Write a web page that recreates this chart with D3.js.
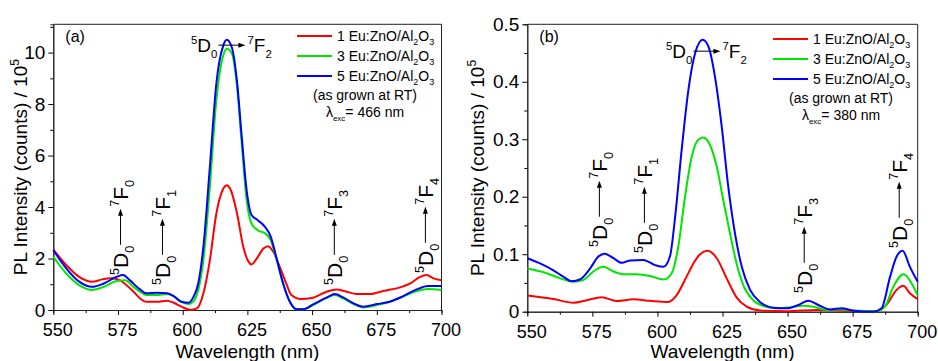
<!DOCTYPE html>
<html>
<head>
<meta charset="utf-8">
<script src="https://cdn.jsdelivr.net/npm/d3@7"></script>
<style>
  body { margin: 0; background: #fff; }
  svg { font-family: "Liberation Sans", Arial, sans-serif; }
</style>
</head>
<body>
<script>
// ---- data: [wavelength nm, PL intensity / 1e5] ----
const seriesNames = ["1 Eu:ZnO/Al", "3 Eu:ZnO/Al", "5 Eu:ZnO/Al"]
const seriesColors = ["#ff0000", "#00e600", "#0000ff"]

const a1 = [[550,2.35],[555,1.75],[560,1.29],[565,1.1],[569,1.19],[572,1.23],[575,1.19],[577.5,1.03],[581,0.71],[583.5,0.45],[586,0.32],[590,0.32],[594,0.36],[596.5,0.28],[599.5,0.13],[603,0.0],[605.5,0.06],[608,0.65],[610.5,1.94],[613,3.75],[615.7,4.72],[617,4.85],[618.3,4.72],[621,3.75],[623.4,2.46],[625.4,1.88],[626.6,1.77],[628.6,2.0],[631.2,2.39],[633,2.48],[635,2.26],[637.5,1.68],[640,1.03],[642,0.58],[645.3,0.43],[650.4,0.48],[655.6,0.71],[659.4,0.8],[663.3,0.71],[667.2,0.62],[672.3,0.62],[677.5,0.74],[684,0.88],[688,1.03],[691.7,1.29],[694.2,1.36],[697,1.23],[700,1.16]]
const a3 = [[550,2.07],[555,1.42],[560,0.97],[565,0.78],[569.5,0.9],[574.5,1.13],[577.7,1.16],[581,0.9],[583.5,0.71],[586,0.58],[590,0.58],[594,0.62],[596.5,0.54],[599.5,0.32],[602.3,0.23],[604,0.32],[606,0.78],[608,1.94],[610.5,4.79],[613,8.15],[615.7,9.9],[617,10.15],[619,9.96],[621,8.67],[622.7,6.6],[624.7,4.27],[626.6,3.36],[629,3.1],[631.8,2.98],[634,2.72],[636.3,1.94],[638.8,1.03],[641.4,0.32],[644,0.03],[646.6,0.03],[650.4,0.19],[655.6,0.48],[658.8,0.58],[662,0.45],[666,0.23],[669.8,0.1],[675,0.19],[680,0.32],[685.2,0.52],[690.4,0.74],[694.8,0.82],[700,0.78]]
const a5 = [[550,2.33],[555,1.62],[560,1.1],[565,0.9],[569.5,1.03],[574.5,1.29],[577,1.36],[579.5,1.16],[583.5,0.8],[586,0.65],[590,0.67],[594,0.65],[596.5,0.54],[599.5,0.32],[602.3,0.28],[604,0.48],[606,1.03],[608,2.46],[610.5,5.56],[613,8.8],[615.7,10.28],[617,10.5],[619,10.2],[621,8.86],[622.7,6.86],[624.7,4.66],[626.6,3.69],[629,3.49],[631.8,3.23],[634,2.85],[636.3,2.0],[638.8,1.03],[641.4,0.32],[644,0.03],[646.6,0.03],[650.4,0.22],[655.6,0.48],[658.8,0.62],[662,0.49],[666,0.26],[669.8,0.13],[675,0.23],[680,0.32],[685.2,0.54],[690.4,0.8],[694.8,0.93],[700,0.93]]

const b1 = [[550,0.028],[560,0.022],[567.7,0.0157],[572.8,0.02],[578.6,0.025],[584.3,0.0186],[590.7,0.0215],[597.1,0.019],[604.2,0.017],[607.4,0.029],[611.2,0.061],[613.8,0.084],[616.4,0.1],[619.2,0.106],[622.8,0.093],[626.6,0.058],[630.4,0.025],[634.3,0.0087],[639.4,0.002],[650,0.001],[661.2,0.003],[670,0.002],[684.2,0.001],[688,0.012],[691.9,0.038],[694.5,0.045],[697,0.032],[700,0.022]]
const b3 = [[550,0.075],[557.4,0.067],[562.6,0.058],[567.7,0.052],[571.5,0.055],[575.4,0.07],[579.2,0.078],[583.1,0.07],[586.9,0.065],[592,0.065],[597.1,0.062],[602.3,0.056],[605.5,0.067],[608,0.113],[610.6,0.2],[613.2,0.27],[615.7,0.299],[617.6,0.303],[620.2,0.29],[622.8,0.252],[625.3,0.194],[627.9,0.136],[630.4,0.084],[633,0.046],[636.8,0.02],[640.7,0.01],[645.8,0.006],[650.9,0.0075],[656.1,0.0104],[659.9,0.0087],[665,0.003],[670.1,0.004],[675.3,0.002],[684,0.0006],[687.4,0.009],[690.6,0.043],[694.5,0.065],[697.7,0.049],[700,0.028]]
const b5 = [[550,0.093],[554.9,0.084],[560,0.072],[563.8,0.061],[567,0.053],[570.2,0.056],[574.1,0.075],[577.3,0.096],[579.8,0.101],[583.1,0.093],[586.3,0.085],[589.5,0.089],[594.6,0.09],[599.1,0.081],[602.3,0.078],[604.8,0.096],[606.8,0.165],[609.3,0.281],[611.9,0.386],[614.5,0.45],[617.4,0.473],[619.6,0.461],[622.1,0.409],[624.7,0.322],[627.2,0.218],[629.8,0.136],[632.4,0.078],[635.6,0.038],[639.4,0.017],[644.5,0.007],[649.7,0.006],[654.1,0.0116],[658,0.019],[661.8,0.0116],[666.3,0.004],[670.8,0.006],[675.3,0.0017],[683,0],[686.1,0.006],[689.4,0.061],[691.9,0.096],[694.2,0.106],[697,0.078],[700,0.052]]

const xTicks = [550, 575, 600, 625, 650, 675, 700]
const yTicksA = [0, 2, 4, 6, 8, 10]
const yTicksB = [0, 0.1, 0.2, 0.3, 0.4, 0.5]
const excA = "466", excB = "380"

// transition labels: [wavelength at baseline, intensity at start of text, F index]
const transA = [[578.9, 1.36, 0], [595.1, 0.97, 1], [661.5, 0.97, 3], [696.7, 1.44, 4]]
const transB = [[580.6, 0.1126, 0], [597.9, 0.1021, 1], [659.3, 0.0325, 3], [695.8, 0.1108, 4]]

const svg = d3.select("body").append("svg").attr("width", 938).attr("height", 361)

function drawTransition(g, x, y, n, arrowLen, vertical, fs) {
    let t = g.append("g").attr("transform", "translate(" + x + "," + y + ")" + (vertical ? " rotate(-90)" : ""))
    let left = t.append("text").attr("font-size", fs)
    left.append("tspan").attr("font-size", fs * 0.6).attr("dy", -fs * 0.42).text("5")
    left.append("tspan").attr("dy", fs * 0.42).text("D")
    left.append("tspan").attr("font-size", fs * 0.6).attr("dy", fs * 0.3).text("0")
    let w = left.node().getComputedTextLength()
    let ay = -fs * 0.36
    t.append("line").attr("x1", w + 1).attr("x2", w + 1 + arrowLen - 6)
        .attr("y1", ay).attr("y2", ay).attr("stroke", "#000").attr("stroke-width", 1)
    t.append("path").attr("d", "M" + (w + 1 + arrowLen) + "," + ay + "l-7,-2.5v5z").attr("fill", "#000")
    let right = t.append("text").attr("font-size", fs).attr("x", w + arrowLen + 3)
    right.append("tspan").attr("font-size", fs * 0.6).attr("dy", -fs * 0.42).text("7")
    right.append("tspan").attr("dy", fs * 0.42).text("F")
    right.append("tspan").attr("font-size", fs * 0.6).attr("dy", fs * 0.3).text(n)
}

function drawPanel(o) {
    let g = svg.append("g")
    let x = d3.scaleLinear().domain([550, 700]).range([o.left, o.right])
    let y = d3.scaleLinear().domain(o.yDomain).range([o.bottom, o.top])

    // minor ticks
    let xMinor = d3.range(562.5, 700, 25)
    g.append("g").attr("transform", "translate(0," + o.bottom + ")")
        .call(d3.axisBottom(x).tickValues(xMinor).tickSize(3).tickFormat(""))
    g.append("g").attr("transform", "translate(" + o.left + ",0)")
        .call(d3.axisLeft(y).tickValues(o.yMinor).tickSize(3).tickFormat(""))

    let xa = g.append("g").attr("transform", "translate(0," + o.bottom + ")")
        .call(d3.axisBottom(x).tickValues(xTicks).tickSize(5).tickSizeOuter(0).tickPadding(8.7))
        .attr("font-size", 18).attr("font-family", null)
    xa.selectAll(".tick text").attr("dx", 4)
    g.append("g").attr("transform", "translate(" + o.left + ",0)")
        .call(d3.axisLeft(y).tickValues(o.yTicks).tickSize(5).tickSizeOuter(0).tickPadding(3)
            .tickFormat(d => d === 0 ? "0" : o.fmt(d)))
        .attr("font-size", 19).attr("font-family", null)
    g.selectAll(".domain").attr("stroke", "#222")

    // frame top/right
    g.append("path").attr("d", "M" + o.left + "," + o.top + "H" + o.right + "V" + o.bottom)
        .attr("fill", "none").attr("stroke", "#222")

    let line = d3.line().x(d => x(d[0])).y(d => y(d[1])).curve(d3.curveMonotoneX)
    o.series.forEach((s, i) => {
        g.append("path").datum(s).attr("d", line).attr("fill", "none")
            .attr("stroke", seriesColors[i]).attr("stroke-width", 2)
    })

    // axis titles
    g.append("text").attr("x", (o.left + o.right) / 2).attr("y", 358)
        .attr("text-anchor", "middle").attr("font-size", 19).text("Wavelength (nm)")
    let yt = g.append("text").attr("transform", "translate(" + o.ylabX + "," + ((o.top + o.bottom) / 2) + ") rotate(-90)")
        .attr("text-anchor", "middle").attr("font-size", 19)
    yt.append("tspan").text("PL Intensity (counts) / 10")
    yt.append("tspan").attr("font-size", 12).attr("dy", -8).text("5")

    g.append("text").attr("x", o.left + 12).attr("y", o.top + 18).attr("font-size", 16).text(o.tag)

    // legend
    seriesNames.forEach((nm, i) => {
        let ly = o.legY + i * 20
        g.append("line").attr("x1", o.legX).attr("x2", o.legX + 35).attr("y1", ly).attr("y2", ly)
            .attr("stroke", seriesColors[i]).attr("stroke-width", 2)
        let t = g.append("text").attr("x", o.legX + 40).attr("y", ly + 5).attr("font-size", 14)
        t.append("tspan").text(nm)
        t.append("tspan").attr("font-size", 9).attr("dy", 4).text("2")
        t.append("tspan").attr("dy", -4).text("O")
        t.append("tspan").attr("font-size", 9).attr("dy", 4).text("3")
    })
    let cx = o.legX + 68
    g.append("text").attr("x", cx).attr("y", o.legY + 64).attr("text-anchor", "middle")
        .attr("font-size", 14).text("(as grown at RT)")
    let ex = g.append("text").attr("x", cx).attr("y", o.legY + 81).attr("text-anchor", "middle").attr("font-size", 14)
    ex.append("tspan").text("\u03bb")
    ex.append("tspan").attr("font-size", 8).attr("dy", 4).text("exc")
    ex.append("tspan").attr("dy", -4).text("= " + o.exc + " nm")

    // transitions
    drawTransition(g, o.peakLabel[0], o.peakLabel[1], 2, 27, false, 19)
    o.trans.forEach(t => {
        drawTransition(g, x(t[0]), y(t[1]), t[2], 36, true, 21)
    })
}

drawPanel({
    left: 53.3, right: 441.5, top: 24.3, bottom: 310, yDomain: [0, 11.1],
    yTicks: yTicksA, yMinor: [1, 3, 5, 7, 9, 11], fmt: d3.format("d"),
    series: [a1, a3, a5], tag: "(a)", ylabX: 27, legX: 297, legY: 36, exc: excA,
    peakLabel: [191, 52], trans: transA
})
drawPanel({
    left: 527.3, right: 917.7, top: 24.3, bottom: 311.7, yDomain: [0, 0.5],
    yTicks: yTicksB, yMinor: [0.05, 0.15, 0.25, 0.35, 0.45], fmt: d3.format(".1f"),
    series: [b1, b3, b5], tag: "(b)", ylabX: 484, legX: 773, legY: 39, exc: excB,
    peakLabel: [666, 58], trans: transB
})
</script>
</body>
</html>
